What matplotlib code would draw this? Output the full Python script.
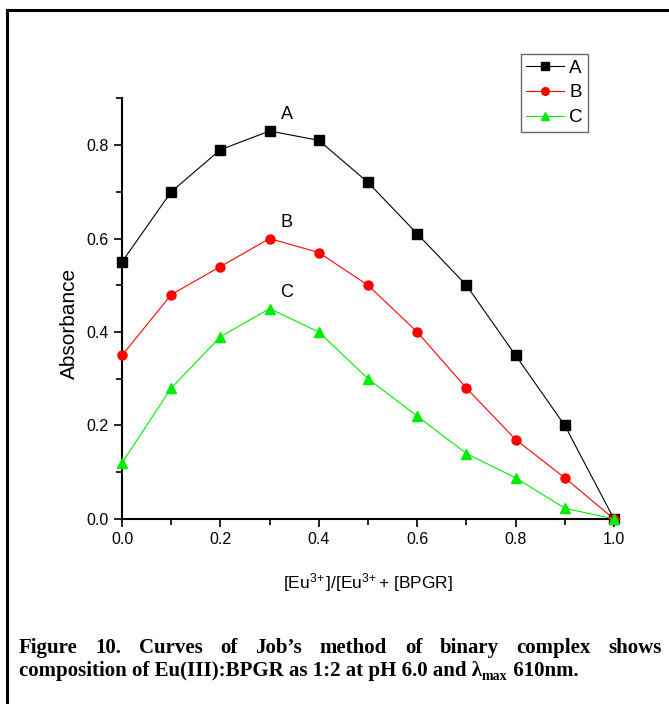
import numpy as np
import matplotlib
matplotlib.use("Agg")
import matplotlib.pyplot as plt
from matplotlib.ticker import MultipleLocator
from matplotlib.lines import Line2D

# mole fraction of Eu3+
x_frac = [0.0, 0.1, 0.2, 0.3, 0.4, 0.5, 0.6, 0.7, 0.8, 0.9, 1.0]
abs_a = [0.55, 0.70, 0.79, 0.83, 0.81, 0.72, 0.61, 0.50, 0.35, 0.20, 0.0]
abs_b = [0.35, 0.48, 0.54, 0.60, 0.57, 0.50, 0.40, 0.28, 0.17, 0.088, 0.0]
abs_c = [0.12, 0.28, 0.39, 0.45, 0.40, 0.30, 0.22, 0.14, 0.088, 0.023, 0.0]
series_names = ["A", "B", "C"]

caption_1 = "Figure 10. Curves of Job\u2019s method of binary complex shows"
caption_2 = ["composition of Eu(III):BPGR as 1:2 at pH 6.0 and \u03bb", "max", " 610nm."]

plt.rcParams["font.family"] = ["Liberation Sans", "DejaVu Sans"]
plt.rcParams["mathtext.fontset"] = "custom"
plt.rcParams["mathtext.rm"] = "Liberation Sans"
plt.rcParams["mathtext.it"] = "Liberation Sans"

fig = plt.figure(figsize=(6.69, 7.04), dpi=100)
ax = fig.add_axes([0.1824, 0.2628, 0.7354, 0.5976])

styles = [("black", "s", 6.5), ("red", "o", 6.5), ("#00ee00", "^", 7.5)]
for ys, name, (col, mk, ms) in zip([abs_a, abs_b, abs_c], series_names, styles):
    ax.plot(x_frac, ys, color=col, marker=mk, markersize=ms, lw=0.8,
            markeredgecolor=col, label=name, clip_on=False, zorder=3)

for name, ys in zip(series_names, [abs_a, abs_b, abs_c]):
    ax.text(0.335, max(ys) + 0.035, name, fontsize=13, ha="center", va="center")

ax.set_xlim(0, 1.0)
ax.set_ylim(0, 0.9)
ax.xaxis.set_major_locator(MultipleLocator(0.2))
ax.xaxis.set_minor_locator(MultipleLocator(0.1))
ax.yaxis.set_major_locator(MultipleLocator(0.2))
ax.yaxis.set_minor_locator(MultipleLocator(0.1))
ax.xaxis.set_major_formatter(plt.FormatStrFormatter("%.1f"))
ax.yaxis.set_major_formatter(plt.FormatStrFormatter("%.1f"))
ax.tick_params(which="major", direction="out", length=6, width=1.2, labelsize=11.5)
ax.tick_params(which="minor", direction="out", length=4, width=1.2)
for s in ["top", "right"]:
    ax.spines[s].set_visible(False)
for s in ["left", "bottom"]:
    ax.spines[s].set_linewidth(1.5)

ax.set_ylabel("Absorbance", fontsize=15, va="center")
ax.yaxis.set_label_coords(-0.106, 0.466)
ax.set_xlabel(r"[Eu$^{3\!+}$]/[Eu$^{3\!+}$+ [BPGR]", fontsize=12.5, labelpad=17)

leg = ax.legend(loc="upper left", bbox_to_anchor=(0.81, 1.105), fontsize=13.5,
                frameon=True, fancybox=False, handlelength=2.0, handletextpad=0.3,
                borderpad=0.3, labelspacing=0.4, borderaxespad=0, markerscale=0.85)
leg.get_frame().set_edgecolor("#444444")
leg.get_frame().set_linewidth(1.0)

# outer frame (top and left edges visible in the page crop)
fig.add_artist(Line2D([7 / 669, 7 / 669], [0, 1 - 10 / 704], color="black", lw=2.2))
fig.add_artist(Line2D([7 / 669, 1], [1 - 10 / 704, 1 - 10 / 704], color="black", lw=2.2))

# caption, first line justified
cap_font = dict(family="Liberation Serif", fontweight="bold", fontsize=15)
fig.canvas.draw()
renderer = fig.canvas.get_renderer()
fw = fig.bbox.width
words = caption_1.split(" ")
x_left, x_right = 19 / 669, 662 / 669
y1 = 1 - 653 / 704
y2 = 1 - 676 / 704
texts = [fig.text(0, y1, w, ha="left", va="baseline", **cap_font) for w in words]
widths = [t.get_window_extent(renderer).width / fw for t in texts]
gap = (x_right - x_left - sum(widths)) / (len(words) - 1)
pos = x_left
for t, w in zip(texts, widths):
    t.set_x(pos)
    pos += w + gap

t1 = fig.text(x_left, y2, caption_2[0], ha="left", va="baseline", **cap_font)
w1 = t1.get_window_extent(renderer).width / fw
sub_font = dict(cap_font, fontsize=10)
t2 = fig.text(x_left + w1, y2 - 4 / 704, caption_2[1], ha="left", va="baseline", **sub_font)
w2 = t2.get_window_extent(renderer).width / fw
fig.text(x_left + w1 + w2, y2, caption_2[2], ha="left", va="baseline", **cap_font)

fig.savefig("out.png", dpi=100)
